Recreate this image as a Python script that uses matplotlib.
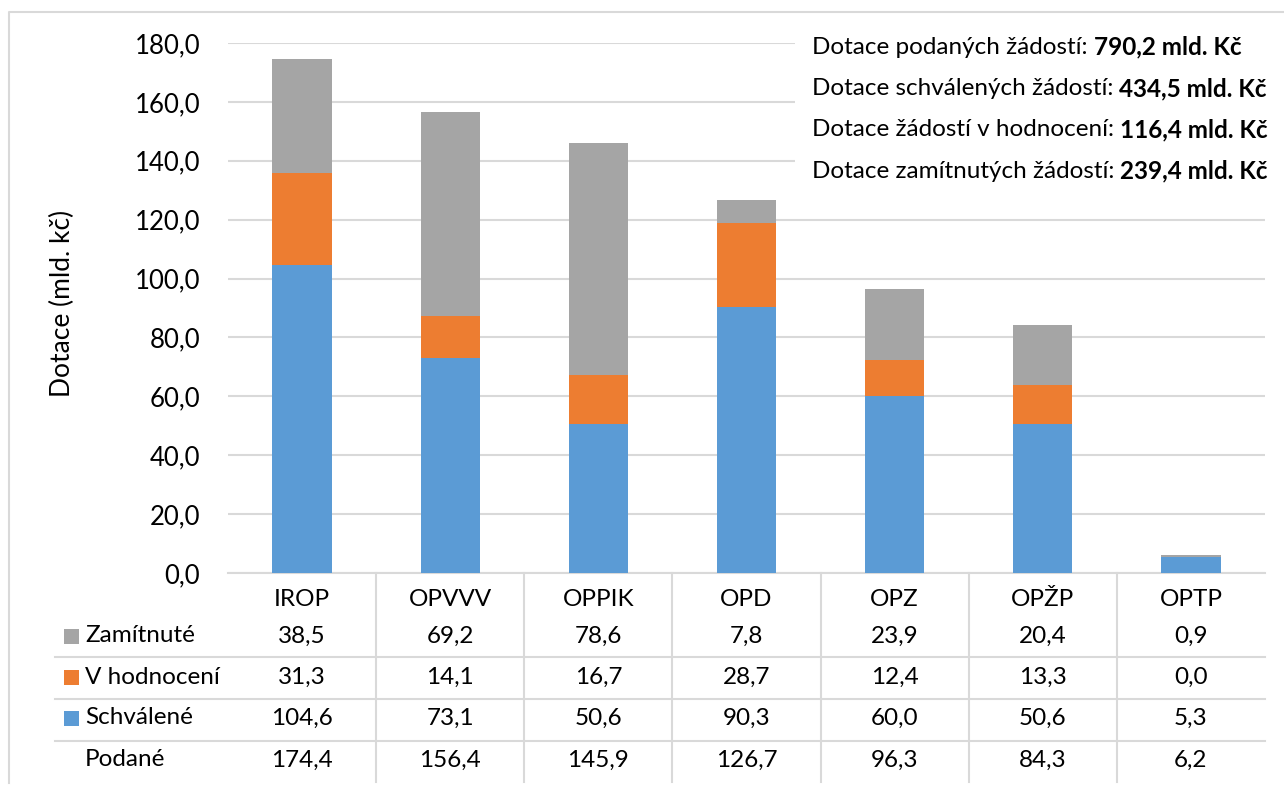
import matplotlib
matplotlib.use("Agg")
import matplotlib.pyplot as plt
import matplotlib.transforms as mtransforms
from matplotlib.patches import Rectangle
from matplotlib.lines import Line2D

# ---------------- data ----------------
categories = ["IROP", "OPVVV", "OPPIK", "OPD", "OPZ", "OPŽP", "OPTP"]
schvalene = [104.6, 73.1, 50.6, 90.3, 60.0, 50.6, 5.3]
v_hodnoceni = [31.3, 14.1, 16.7, 28.7, 12.4, 13.3, 0.0]
zamitnute = [38.5, 69.2, 78.6, 7.8, 23.9, 20.4, 0.9]
podane = [174.4, 156.4, 145.9, 126.7, 96.3, 84.3, 6.2]

row_labels = ["Zamítnuté", "V hodnocení", "Schválené", "Podané"]
summary_labels = ["Dotace podaných žádostí:",
                  "Dotace schválených žádostí:",
                  "Dotace žádostí v hodnocení:",
                  "Dotace zamítnutých žádostí:"]
summary_values = ["790,2 mld. Kč", "434,5 mld. Kč", "116,4 mld. Kč", "239,4 mld. Kč"]
y_ticks = [0, 20, 40, 60, 80, 100, 120, 140, 160, 180]
y_label = "Dotace (mld. kč)"

# ---------------- style ----------------
W, H = 1284, 787
C_BLUE = "#5B9BD5"
C_ORANGE = "#ED7D31"
C_GRAY = "#A5A5A5"
C_LINE = "#D9D9D9"
FONT = "Lato"
plt.rcParams["font.family"] = [FONT, "DejaVu Sans"]
TABLE_FS = 17.5
SUM_FS = 17.5

def fx(px):
    return px / W

def fy(py):
    return 1 - py / H

def fmt(v):
    return f"{v:.1f}".replace(".", ",")

fig = plt.figure(figsize=(W / 100, H / 100), dpi=100)
fig.patch.set_facecolor("white")

ax = fig.add_axes([fx(228), fy(573), fx(1265) - fx(228), fy(43) - fy(573)])
x = list(range(len(categories)))
bw = 0.4
ax.bar(x, schvalene, bw, color=C_BLUE, zorder=3)
bottom2 = [a for a in schvalene]
ax.bar(x, v_hodnoceni, bw, bottom=bottom2, color=C_ORANGE, zorder=3)
bottom3 = [a + b for a, b in zip(schvalene, v_hodnoceni)]
ax.bar(x, zamitnute, bw, bottom=bottom3, color=C_GRAY, zorder=3)

ax.set_xlim(-0.5, len(categories) - 0.5)
ax.set_ylim(0, 180)
ax.set_yticks(y_ticks)
ax.set_yticklabels([fmt(v) for v in y_ticks], fontsize=18.5, color="#000000")
ax.tick_params(axis="y", length=0, pad=20)
ax.set_xticks([])
ax.grid(axis="y", color=C_LINE, linewidth=1.5, zorder=0)
ax.set_axisbelow(True)
for s in ["left", "right", "top"]:
    ax.spines[s].set_visible(False)
ax.spines["bottom"].set_color(C_LINE)
ax.spines["bottom"].set_linewidth(1.5)
ax.set_facecolor("none")

fig.text(fx(62), fy(303), y_label, rotation=90, ha="center", va="center",
         fontsize=19, color="#000000")

# ---------------- data table ----------------
bt = mtransforms.blended_transform_factory(ax.transData, fig.transFigure)
row_y = [636, 677, 718, 760]
row_values = [zamitnute, v_hodnoceni, schvalene, podane]
row_colors = [C_GRAY, C_ORANGE, C_BLUE, None]
cat_y = 599
for i, c in enumerate(categories):
    fig.text(i, fy(cat_y), c, transform=bt, ha="center", va="center",
             fontsize=TABLE_FS, color="#000000")
    for ry, vals in zip(row_y, row_values):
        fig.text(i, fy(ry), fmt(vals[i]), transform=bt, ha="center", va="center",
                 fontsize=TABLE_FS, color="#000000")

for lab, ry, col in zip(row_labels, row_y, row_colors):
    if col is not None:
        fig.add_artist(Rectangle((fx(64), fy(ry + 7.5)), fx(15), 15 / H,
                                 transform=fig.transFigure, facecolor=col,
                                 edgecolor="none"))
    fig.text(fx(85), fy(ry), lab, ha="left", va="center", fontsize=TABLE_FS,
             color="#000000")

for ly in [657, 699, 741]:
    fig.add_artist(Line2D([fx(55), fx(1265)], [fy(ly), fy(ly)],
                          transform=fig.transFigure, color=C_LINE, linewidth=1.5))
for i in range(len(categories) - 1):
    fig.add_artist(Line2D([i + 0.5, i + 0.5], [fy(573), fy(782)],
                          transform=bt, color=C_LINE, linewidth=1.5))

# outer frame (left and top only visible)
fig.add_artist(Line2D([fx(9), fx(9), fx(1284)], [fy(783), fy(12), fy(12)],
                      transform=fig.transFigure, color=C_LINE, linewidth=1.5))

# ---------------- summary box ----------------
fig.add_artist(Rectangle((fx(795), fy(190)), fx(1266) - fx(795), fy(25) - fy(190),
                         transform=fig.transFigure, facecolor="white",
                         edgecolor="none", zorder=5))
renderer = fig.canvas.get_renderer()
for lab, val, sy in zip(summary_labels, summary_values, [47, 88.5, 130, 171]):
    t = fig.text(fx(812), fy(sy), lab, ha="left", va="center", fontsize=SUM_FS,
                 color="#000000", zorder=6)
    bb = t.get_window_extent(renderer=renderer)
    fig.text((bb.x1 + 6) / W, fy(sy), val, ha="left", va="center", fontsize=SUM_FS,
             fontweight="bold", color="#000000", zorder=6)

fig.savefig("out.png", dpi=100, facecolor="white")
